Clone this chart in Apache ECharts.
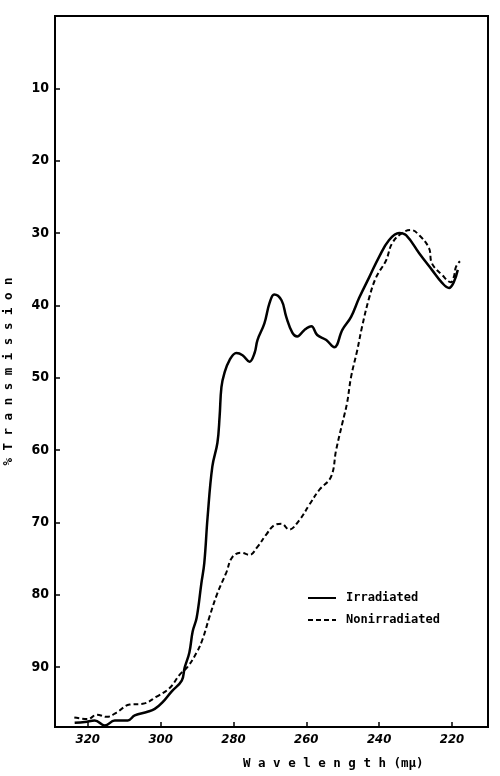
<!DOCTYPE html>
<html>
<head>
<meta charset="utf-8">
<script src="https://cdn.jsdelivr.net/npm/echarts@6/dist/echarts.min.js"></script>
<style>
  html, body { margin: 0; padding: 0; background: #fff; }
  #chart { width: 500px; height: 776px; }
</style>
</head>
<body>
<div id="chart"></div>
<script>
// wavelength (mμ) and % transmission
const irradiatedWl = [323.6, 320.8, 318.1, 315.3, 312.6, 309.0, 307.1, 303.6, 301.6, 299.5, 297.0, 294.2, 293.4, 292.1, 291.2, 290.1, 288.8, 288.0, 287.1, 285.8, 284.4, 283.8, 283.3, 282.5, 281.1, 279.2, 277.5, 275.6, 274.2, 273.4, 271.5, 270.1, 268.8, 266.8, 265.5, 263.8, 262.5, 260.5, 258.6, 257.0, 254.5, 252.3, 250.1, 247.7, 245.5, 242.7, 240.0, 237.3, 234.5, 232.6, 229.0, 225.5, 222.7, 220.8, 219.5, 218.4];
const irradiatedT = [97.7, 97.6, 97.4, 98.1, 97.4, 97.4, 96.7, 96.2, 95.8, 94.9, 93.4, 91.9, 90.1, 88.0, 85.1, 83.2, 78.4, 75.6, 69.3, 62.3, 59.0, 55.4, 51.3, 49.4, 47.6, 46.6, 46.9, 47.8, 46.6, 44.8, 42.5, 39.7, 38.5, 39.3, 41.6, 43.8, 44.3, 43.4, 42.9, 44.1, 44.8, 45.8, 43.4, 41.6, 39.0, 36.1, 33.3, 31.0, 30.0, 30.3, 32.8, 35.1, 36.9, 37.6, 36.8, 35.1];

const nonirrWl = [323.7, 320.0, 317.5, 314.8, 312.1, 308.5, 304.9, 301.1, 297.5, 294.8, 292.6, 290.1, 288.5, 286.6, 284.4, 282.0, 280.3, 277.8, 275.6, 273.4, 271.0, 268.8, 266.8, 264.7, 261.9, 259.2, 256.4, 253.2, 251.8, 250.1, 248.8, 247.7, 246.0, 244.7, 242.7, 240.8, 238.1, 236.4, 233.7, 231.2, 229.0, 226.3, 225.5, 222.7, 220.3, 219.5, 218.9, 217.8];
const nonirrT = [97.0, 97.2, 96.6, 96.9, 96.3, 95.2, 95.1, 94.1, 92.9, 91.1, 90.0, 88.0, 86.2, 83.1, 79.8, 77.0, 74.8, 74.2, 74.5, 73.4, 71.7, 70.4, 70.2, 71.0, 69.7, 67.6, 65.5, 63.7, 60.0, 56.3, 53.5, 49.9, 46.2, 43.0, 38.9, 36.1, 33.8, 31.4, 30.0, 29.6, 30.3, 32.1, 34.2, 35.8, 36.8, 36.1, 34.7, 33.9];

const xTicks = [320, 300, 280, 260, 240, 220];
const yTicks = [10, 20, 30, 40, 50, 60, 70, 80, 90];

const zip = (a, b) => a.map((v, i) => [v, b[i]]);

const chart = echarts.init(document.getElementById('chart'));
const labelFont = '"DejaVu Sans Condensed", "DejaVu Sans", sans-serif';
const monoFont = '"DejaVu Sans Mono", "Liberation Mono", monospace';

chart.setOption({
  animation: false,
  backgroundColor: '#fff',
  grid: {
    left: 55, right: 12, top: 16, bottom: 49,
    containLabel: false,
    outerBoundsMode: 'none',
    show: true, borderColor: '#000', borderWidth: 2
  },
  legend: {
    orient: 'vertical',
    left: 307, top: 592, padding: 0,
    itemWidth: 28, itemHeight: 10, itemGap: 10,
    itemStyle: { opacity: 0 },
    textStyle: { fontFamily: monoFont, fontWeight: 'bold', fontSize: 12, color: '#000', padding: [0, 0, 0, 5] },
    data: ['Irradiated', 'Nonirradiated']
  },
  xAxis: {
    type: 'value',
    inverse: true,
    min: 210.1, max: 329,
    splitLine: { show: false },
    axisLine: { onZero: false, lineStyle: { color: '#000', width: 2 } },
    axisTick: { inside: true, length: 5, customValues: xTicks, lineStyle: { color: '#000', width: 1.5 } },
    axisLabel: {
      customValues: xTicks, margin: 6,
      fontFamily: labelFont, fontStyle: 'italic', fontWeight: 'bold', fontSize: 13, color: '#000'
    }
  },
  yAxis: {
    type: 'value',
    inverse: true,
    min: 0, max: 98.3,
    name: '% T r a n s m i s s i o n',
    nameLocation: 'middle',
    nameGap: 40,
    nameTextStyle: { fontFamily: monoFont, fontWeight: 'bold', fontSize: 12.5, color: '#000' },
    splitLine: { show: false },
    axisLine: { onZero: false, lineStyle: { color: '#000', width: 2 } },
    axisTick: { inside: true, length: 5, customValues: yTicks, lineStyle: { color: '#000', width: 1.5 } },
    axisLabel: {
      customValues: yTicks, margin: 6,
      fontFamily: labelFont, fontWeight: 'bold', fontSize: 14, color: '#000'
    }
  },
  graphic: [{
    type: 'text',
    left: 243, top: 757,
    style: {
      text: 'W a v e l e n g t h (mμ)',
      fontFamily: monoFont, fontWeight: 'bold', fontSize: 12.5, fill: '#000'
    }
  }],
  series: [
    {
      name: 'Irradiated',
      type: 'line',
      smooth: 0.4,
      symbol: 'none',
      data: zip(irradiatedWl, irradiatedT),
      lineStyle: { color: '#000', width: 2.5, type: 'solid' },
      itemStyle: { color: '#000' }
    },
    {
      name: 'Nonirradiated',
      type: 'line',
      smooth: 0.4,
      symbol: 'none',
      data: zip(nonirrWl, nonirrT),
      lineStyle: { color: '#000', width: 2, type: [5, 3] },
      itemStyle: { color: '#000' }
    }
  ]
});
</script>
</body>
</html>
